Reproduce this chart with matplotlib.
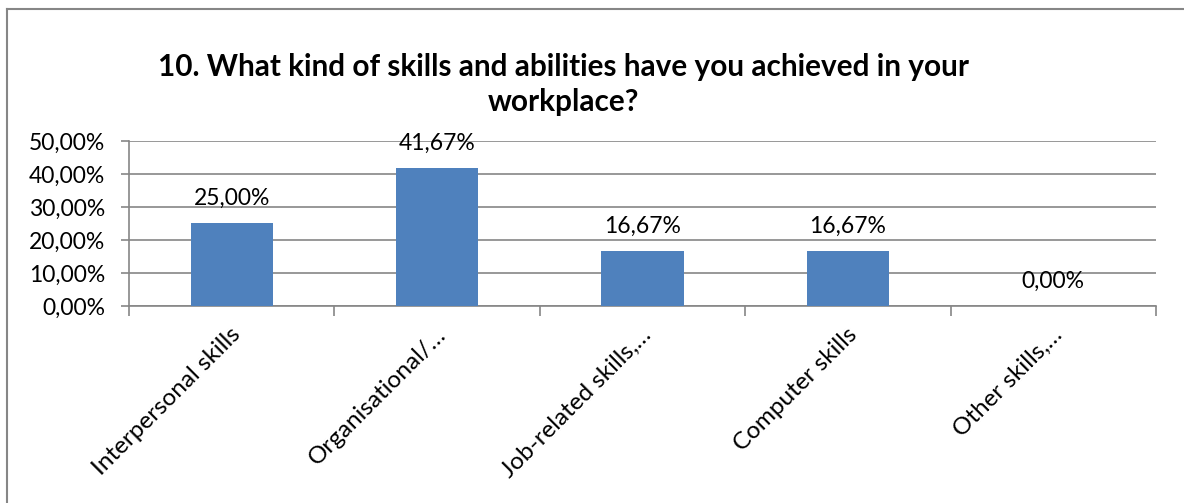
import matplotlib.pyplot as plt
import matplotlib.transforms as mtransforms
from matplotlib.lines import Line2D
from matplotlib.ticker import FuncFormatter, MultipleLocator
import numpy as np

plt.rcParams['font.family'] = ['Lato', 'DejaVu Sans']

# survey answers, share of respondents (%)
categories = ['Interpersonal skills', 'Organisational/\u2026', 'Job-related skills,\u2026',
              'Computer skills', 'Other skills,\u2026']
shares = [25.00, 41.67, 16.67, 16.67, 0.00]

title = '10. What kind of skills and abilities have you achieved in your\nworkplace?'

bar_color = '#4F81BD'
grid_color = '#868686'
label_size = 16.5

fig = plt.figure(figsize=(11.84, 5.03), dpi=100)
ax = fig.add_axes([0.1090, 0.3917, 0.8674, 0.3280])

x = np.arange(len(categories))
bars = ax.bar(x, shares, width=0.4, color=bar_color, zorder=3)

for xi, v in zip(x, shares):
    ax.text(xi, v + 4.4, f'{v:.2f}%'.replace('.', ','), ha='center', va='bottom',
            fontsize=label_size, color='black', zorder=4)

ax.set_xlim(-0.5, len(categories) - 0.5)
ax.set_ylim(0, 50)
ax.yaxis.set_major_locator(MultipleLocator(10))
ax.yaxis.set_major_formatter(FuncFormatter(lambda v, p: f'{v:.2f}%'.replace('.', ',')))
ax.grid(axis='y', color=grid_color, linewidth=1.2, zorder=0)
ax.set_axisbelow(True)

for side in ['top', 'right']:
    ax.spines[side].set_visible(False)
for side in ['left', 'bottom']:
    ax.spines[side].set_color(grid_color)
    ax.spines[side].set_linewidth(1.2)

ax.tick_params(axis='y', length=6, width=1.2, color=grid_color, labelsize=label_size, pad=11)

# category boundaries get the tick marks, names sit at the centres
ax.set_xticks(np.arange(len(categories) + 1) - 0.5)
ax.set_xticklabels([])
ax.tick_params(axis='x', which='major', length=7, width=1.2, color=grid_color)
ax.set_xticks(x, minor=True)
ax.set_xticklabels(categories, minor=True, rotation=45, ha='right',
                   rotation_mode='anchor', fontsize=17.5)
ax.tick_params(axis='x', which='minor', length=0, pad=13)
shift = mtransforms.ScaledTranslation(-2 / 100, 0, fig.dpi_scale_trans)
for lbl in ax.get_xticklabels(minor=True):
    lbl.set_transform(lbl.get_transform() + shift)

fig.text(0.476, 0.895, title, ha='center', va='top', fontsize=21.4,
         fontweight='bold', linespacing=1.3)

# chart area frame: only the top and left edges fall inside the image
fx, fy = 7 / 1184, 1 - 9 / 503
fig.add_artist(Line2D([fx, 1.0], [fy, fy], transform=fig.transFigure,
                      color=grid_color, linewidth=1.5))
fig.add_artist(Line2D([fx, fx], [0.0, fy], transform=fig.transFigure,
                      color=grid_color, linewidth=1.5))

fig.savefig('out.png', dpi=100)
